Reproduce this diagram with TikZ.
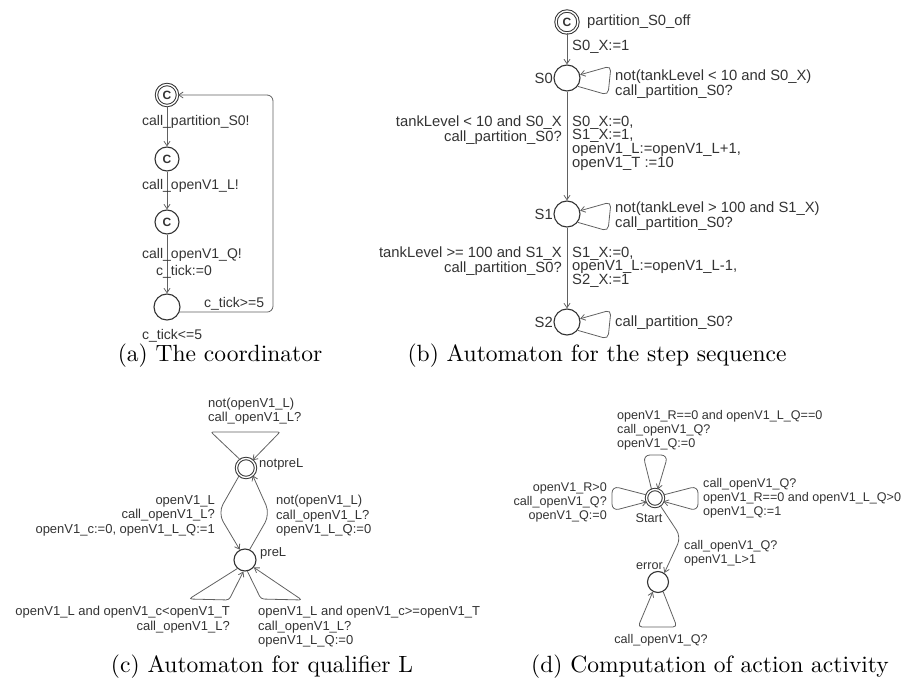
\documentclass[tikz,border=0pt]{standalone}
\usepackage{fontspec}
\usepackage{graphicx}
\newfontfamily\uppfont{Liberation Sans}
\usetikzlibrary{arrows.meta}
\definecolor{ink}{gray}{0.2}
\definecolor{wire}{gray}{0.38}
\begin{document}
\begin{tikzpicture}[x=1pt,y=-1pt,
  loc/.style={circle,draw=ink,line width=1.1pt,inner sep=0pt,minimum size=#1},
  initloc/.style={circle,draw=ink,double,double distance=1.4pt,line width=1pt,inner sep=0pt,minimum size=#1,
    font=\uppfont\bfseries\fontsize{12}{12}\selectfont,text=ink},
  arr/.style={draw=wire,line width=0.8pt,-{Straight Barb[length=4.5pt,width=6pt]}},
  lblA/.style={font=\uppfont\fontsize{14}{14.5}\selectfont,inner sep=0pt,text=ink},
  lblB/.style={font=\uppfont\fontsize{14.8}{13.6}\selectfont,inner sep=0pt,text=ink},
  lblC/.style={font=\uppfont\fontsize{13}{14.4}\selectfont,inner sep=0pt,text=ink},
  lblD/.style={font=\uppfont\fontsize{12.6}{14}\selectfont,inner sep=0pt,text=ink},
  capt/.style={inner sep=0pt,anchor=base,font=\fontsize{10}{12}\selectfont}
]
\useasboundingbox (0,0) rectangle (906,682);

% ---------- (a) the coordinator ----------
\node[initloc=21pt] (a0) at (167,95) {C};
\node[loc=24pt,font=\uppfont\bfseries\fontsize{12}{12}\selectfont,text=ink] (a1) at (167,159) {C};
\node[loc=24pt,font=\uppfont\bfseries\fontsize{12}{12}\selectfont,text=ink] (a2) at (167,222) {C};
\node[loc=26pt] (a3) at (167,307) {};
\draw[arr] (a0) -- (a1);
\draw[arr] (a1) -- (a2);
\draw[arr] (a2) -- (a3);
\coordinate (aBR) at (273,312);
\coordinate (aTR) at (273,95);
\draw[arr,rounded corners=6pt] (a3.-22) -- (a3.-22 -| aBR) -- (aTR) -- (a0);
\node[lblA,anchor=north west] (ta1) at (142,115) {call\_partition\_S0!};
\node[lblA,anchor=north west] (ta2) at (142,179) {call\_openV1\_L!};
\node[lblA,anchor=north west] (ta3) at (142,248) {call\_openV1\_Q!};
\node[lblA,anchor=north west] (ta4) at (156,265) {c\_tick:=0};
\node[lblA,anchor=north west] (ta5) at (204,297) {c\_tick>=5};
\node[lblA,anchor=north west] (ta6) at (142,329) {c\_tick<=5};

% ---------- (b) step sequence ----------
\node[initloc=22pt] (b0) at (567,22) {C};
\node[loc=26pt] (s0) at (567,78) {};
\node[loc=26pt] (s1) at (567,214) {};
\node[loc=26pt] (s2) at (567,322) {};
\draw[arr] (b0) -- (s0);
\draw[arr] (s0) -- (s1);
\draw[arr] (s1) -- (s2);
\coordinate (s0p) at (608,95);  \coordinate (s0q) at (611,66);
\coordinate (s1p) at (608,231); \coordinate (s1q) at (611,202);
\coordinate (s2p) at (608,339); \coordinate (s2q) at (611,310);
\draw[arr,rounded corners=5pt] (s0.-38) -- (s0p) -- (s0q) -- (s0.14);
\draw[arr,rounded corners=5pt] (s1.-38) -- (s1p) -- (s1q) -- (s1.14);
\draw[arr,rounded corners=5pt] (s2.-38) -- (s2p) -- (s2q) -- (s2.14);
\node[lblB,anchor=north west] (tb0) at (587,14.7) {partition\_S0\_off};
\node[lblB,anchor=north west] (tb1) at (572,39.7) {S0\_X:=1};
\node[lblB,anchor=east] (n0) at (553,78) {S0};
\node[lblB,anchor=east] (n1) at (553,214) {S1};
\node[lblB,anchor=east] (n2) at (553,322) {S2};
\node[lblB,anchor=north west,align=left] (tb2) at (615,69.7)
  {not(tankLevel < 10 and S0\_X)\\call\_partition\_S0?};
\node[lblB,anchor=north east,align=right] (tb3) at (562,115.7)
  {tankLevel < 10 and S0\_X\\call\_partition\_S0?};
\node[lblB,anchor=north west,align=left] (tb4) at (572,115.7)
  {S0\_X:=0,\\S1\_X:=1,\\openV1\_L:=openV1\_L+1,\\openV1\_T :=10};
\node[lblB,anchor=north west,align=left] (tb5) at (615,201.7)
  {not(tankLevel > 100 and S1\_X)\\call\_partition\_S0?};
\node[lblB,anchor=north east,align=right] (tb6) at (562,246.7)
  {tankLevel >= 100 and S1\_X\\call\_partition\_S0?};
\node[lblB,anchor=north west,align=left] (tb7) at (572,246.7)
  {S1\_X:=0,\\openV1\_L:=openV1\_L-1,\\S2\_X:=1};
\node[lblB,anchor=west] (tb8) at (615,323) {call\_partition\_S0?};

% ---------- (c) qualifier L ----------
\node[initloc=19pt] (np) at (246,468) {};
\node[loc=22pt] (pr) at (245,560) {};
\coordinate (cTL) at (211,432); \coordinate (cTR) at (280,432);
\draw[arr,rounded corners=2pt] (np.125) -- (cTL) -- (cTR) -- (np.50);
\coordinate (cL) at (218,513); \coordinate (cR) at (270,514);
\draw[arr,rounded corners=10pt] (np.228) -- (cL) -- (pr.117);
\draw[arr,rounded corners=10pt] (pr.66) -- (cR) -- (np.-48);
\coordinate (cLa) at (189,599); \coordinate (cLb) at (229,600);
\coordinate (cRa) at (261,599); \coordinate (cRb) at (302,600);
\draw[arr,rounded corners=3pt] (pr.228) -- (cLa) -- (cLb) -- (pr.262);
\draw[arr,rounded corners=3pt] (pr.282) -- (cRa) -- (cRb) -- (pr.320);
\node[lblC,anchor=north west,align=left] (tc0) at (208,397.5)
  {not(openV1\_L)\\call\_openV1\_L?};
\node[lblC,anchor=west] (tc1) at (259,464) {notpreL};
\node[lblC,anchor=west] (tc2) at (260,553) {preL};
\node[lblC,anchor=north east,align=right] (tc3) at (215,495.3)
  {openV1\_L\\call\_openV1\_L?\\openV1\_c:=0, openV1\_L\_Q:=1};
\node[lblC,anchor=north west,align=left] (tc4) at (276,495.3)
  {not(openV1\_L)\\call\_openV1\_L?\\openV1\_L\_Q:=0};
\node[lblC,anchor=north east,align=right] (tc5) at (230,606.3)
  {openV1\_L and openV1\_c<openV1\_T\\call\_openV1\_L?};
\node[lblC,anchor=north west,align=left] (tc6) at (258,606.3)
  {openV1\_L and openV1\_c>=openV1\_T\\call\_openV1\_L?\\openV1\_L\_Q:=0};

% ---------- (d) action activity ----------
\node[initloc=17pt] (st) at (655,498) {};
\node[loc=21pt] (er) at (658,582) {};
\coordinate (dT1) at (643,455); \coordinate (dT2) at (668,455);
\coordinate (dL1) at (612,486); \coordinate (dL2) at (612,511);
\coordinate (dR1) at (698,486); \coordinate (dR2) at (698,511);
\draw[arr,rounded corners=7pt] (st.112) -- (dT1) -- (dT2) -- (st.72);
\draw[arr,rounded corners=7pt] (st.160) -- (dL1) -- (dL2) -- (st.205);
\draw[arr,rounded corners=7pt] (st.20) -- (dR1) -- (dR2) -- (st.-22);
\coordinate (dE) at (681,537);
\draw[arr,rounded corners=8pt] (st.-55) -- (dE) -- (er.55);
\coordinate (dB1) at (677,627); \coordinate (dB2) at (638,627);
\draw[arr,rounded corners=4pt] (er.-62) -- (dB1) -- (dB2) -- (er.-118);
\node[lblD] (td0) at (649,518) {Start};
\node[lblD,anchor=east] (td1) at (663,566) {error};
\node[lblD,anchor=north west,align=left] (td2) at (617,410.5)
  {openV1\_R==0 and openV1\_L\_Q==0\\call\_openV1\_Q?\\openV1\_Q:=0};
\node[lblD,anchor=north east,align=right] (td3) at (607,482.5)
  {openV1\_R>0\\call\_openV1\_Q?\\openV1\_Q:=0};
\node[lblD,anchor=north west,align=left] (td4) at (703,478.5)
  {call\_openV1\_Q?\\openV1\_R==0 and openV1\_L\_Q>0\\openV1\_Q:=1};
\node[lblD,anchor=north west,align=left] (td5) at (684,540.5)
  {call\_openV1\_Q?\\openV1\_L>1};
\node[lblD,anchor=north] (td6) at (661,634.5) {call\_openV1\_Q?};

% ---------- captions ----------
\node[capt] (capa) at (220,361) {\scalebox{2.35}{(a) The coordinator}};
\node[capt] (capb) at (597,361) {\scalebox{2.35}{(b) Automaton for the step sequence}};
\node[capt] (capc) at (262,672) {\scalebox{2.35}{(c) Automaton for qualifier L}};
\node[capt] (capd) at (710,672) {\scalebox{2.35}{(d) Computation of action activity}};
\end{tikzpicture}
\end{document}
